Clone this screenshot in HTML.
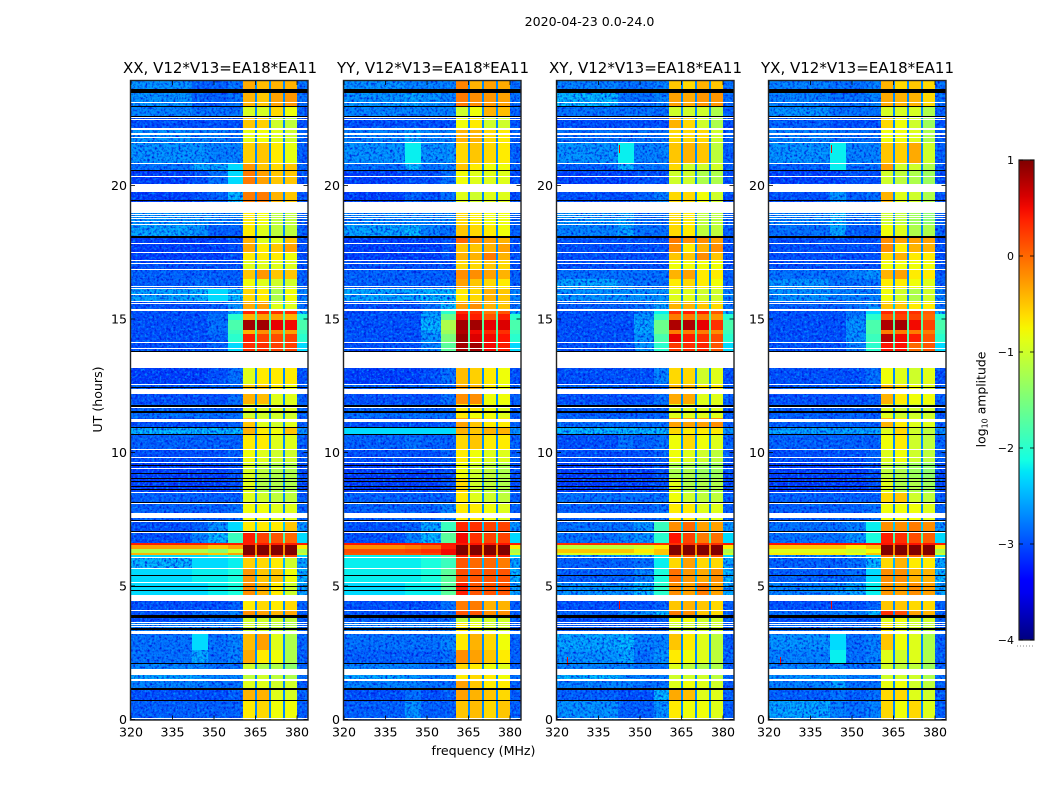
<!DOCTYPE html>
<html lang="en">
<head>
<meta charset="utf-8">
<title>2020-04-23 amplitude waterfall</title>
<style>
html,body{margin:0;padding:0;background:#fff;}
svg{display:block;}
text{font-family:"DejaVu Sans","Liberation Sans",sans-serif;fill:#000;}
</style>
</head>
<body>
<svg id="figure" xmlns="http://www.w3.org/2000/svg" width="1050" height="800" viewBox="0 0 1050 800">
  <defs>
    <linearGradient id="jet-gradient" x1="0" y1="1" x2="0" y2="0"></linearGradient>
    <filter id="speckle-dark" x="0" y="0" width="100%" height="100%" color-interpolation-filters="sRGB">
      <feTurbulence type="fractalNoise" baseFrequency="0.42" numOctaves="2" seed="3"></feTurbulence>
      <feColorMatrix type="matrix" values="0 0 0 0 0  0 0 0 0 0.08  0 0 0 0 0.85  2.6 0 0 0 -1.1"></feColorMatrix>
    </filter>
    <filter id="speckle-light" x="0" y="0" width="100%" height="100%" color-interpolation-filters="sRGB">
      <feTurbulence type="fractalNoise" baseFrequency="0.42" numOctaves="2" seed="11"></feTurbulence>
      <feColorMatrix type="matrix" values="0 0 0 0 0  0 0 0 0 0.6  0 0 0 0 1  2.4 0 0 0 -1.1"></feColorMatrix>
    </filter>
  </defs>
  <text x="589.5" y="26" font-size="12.6" text-anchor="middle">2020-04-23 0.0-24.0</text>
  <text x="220" y="73" font-size="15" text-anchor="middle" textLength="194" lengthAdjust="spacingAndGlyphs">XX, V12*V13=EA18*EA11</text>
  <text x="433" y="73" font-size="15" text-anchor="middle" textLength="192" lengthAdjust="spacingAndGlyphs">YY, V12*V13=EA18*EA11</text>
  <text x="645.5" y="73" font-size="15" text-anchor="middle" textLength="193" lengthAdjust="spacingAndGlyphs">XY, V12*V13=EA18*EA11</text>
  <text x="857.5" y="73" font-size="15" text-anchor="middle" textLength="193" lengthAdjust="spacingAndGlyphs">YX, V12*V13=EA18*EA11</text>
  <text x="483.5" y="755" font-size="12.6" text-anchor="middle">frequency (MHz)</text>
  <text transform="translate(102,399.5) rotate(-90)" font-size="12.6" text-anchor="middle">UT (hours)</text>
  <text transform="translate(985.5,399.5) rotate(-90)" font-size="12.4" text-anchor="middle">log<tspan font-size="8" dy="2">10</tspan><tspan dy="-2"> amplitude</tspan></text>
  <g id="panels"></g>
  <g id="colorbar"></g>
</svg>
<script>
var xTickLabels = [320, 335, 350, 365, 380];
var yTickLabels = [0, 5, 10, 15, 20];
var colorbarTicks = [1, 0, -1, -2, -3, -4];
var panelNames = ['xx', 'yy', 'xy', 'yx'];

/* time band edges, hours */
var rowEdges = [0,.7,1.15,1.5,1.9,2.1,2.6,3.3,3.65,3.9,4.1,4.65,5.15,5.65,6.05,6.15,6.25,6.4,6.55,6.6,7,7.4,8.1,8.5,9,9.6,10.1,10.7,10.95,11.3,11.55,11.8,12.2,12.57,13.8,14.15,14.45,14.6,14.95,15.2,15.35,15.65,16.15,16.5,16.87,17.2,17.5,17.85,18.07,18.55,19.4,20.05,20.55,20.85,21.6,22.1,22.6,22.97,23.5,23.91];

/* frequency cell edges for the eight per-row values, MHz */
var columnEdges = [[320,342],[342,348],[348,355],[355,360.5],[360.5,364.9],[365.5,369.9],[370.5,374.9],[375.5,380]];
var gapColumns = [[364.9,365.5],[369.9,370.5],[374.9,375.5]];
var edgeColumn = [380,384];

/* log10 amplitude per time band: 320-342, 342-348, 348-355, 355-360, sub-bands 1-4 */
var xxRows = [
[-2.9,-2.9,-2.9,-2.9,-.7,-.6,-.8,-.8],[-3,-3,-3,-2.9,-.4,-.4,-.9,-.95],[-2.7,-2.7,-2.8,-2.8,-.9,-.9,-1,-1],[-2.5,-2.6,-2.7,-2.7,-1.1,-1,-1.1,-1.2],
[-2.7,-2.7,-2.8,-2.8,-1,-1.2,-1.2,-1.4],[-2.8,-2.5,-2.8,-2.7,-.35,-.7,-.8,-1.2],[-2.8,-2.3,-2.8,-2.7,-.45,-.3,-.9,-1.2],[-2.7,-2.7,-2.7,-2.7,-1,-1,-1.1,-1.2],
[-3,-2.9,-2.8,-2.8,-1,-1,-1,-1.1],[-3,-2.8,-2.8,-2.7,-.2,-.3,-.4,-.35],[-3,-3,-3,-2.9,-.7,-.6,-.7,-.6],[-2.3,-2.3,-2.2,-2.1,-.2,-.4,-.7,-1],
[-2.3,-2.2,-2.2,-2.1,-.25,-.5,-.5,-.8],[-2.4,-2.3,-2.3,-2.2,-.55,-.6,-.7,-1],[-2.3,-2.3,-2.2,-2,.3,.3,.2,.2],[-.4,-.4,-.5,-.3,1,1,1,1],
[-1.2,-1.2,-1.4,-1,1,1,1,1],[-.3,-.3,-.5,-.3,1,1,1,1],[.4,.4,.4,.4,.4,.4,.4,.4],[-3,-2.7,-2.4,-1.9,.4,.2,.1,0],
[-3,-2.9,-2.6,-2.3,-.7,-.7,-.7,-.5],[-2.9,-2.9,-2.9,-2.8,-.8,-.8,-.9,-.9],[-2.9,-2.9,-2.9,-2.9,-.9,-1,-1.1,-1.1],[-3.1,-3.1,-3.1,-3,-.9,-1.2,-1.2,-1.2],
[-3.1,-3.1,-3.1,-3,-.95,-1.1,-1.2,-1.2],[-3,-3,-3,-2.9,-.8,-.9,-1,-1],[-2.9,-2.9,-2.9,-2.9,-.7,-.7,-.9,-.9],[-2.4,-2.4,-2.4,-2.4,-.4,-.7,-.8,-.5],
[-3,-3,-3,-2.9,-.5,-.9,-1,-.9],[-2.8,-2.8,-2.8,-2.8,-1,-1,-1,-1],[-2.9,-2.9,-2.9,-2.9,-.9,-.9,-.9,-.9],[-3,-3,-3,-2.8,-.4,-.45,-.9,-.9],
[-2.9,-2.9,-2.9,-2.9,-.5,-.5,-.7,-.8],[-3.1,-3.1,-3,-2.8,-.9,-.7,-.7,-.7],[-3,-3,-2.9,-2.3,.3,.3,.2,.2],[-3,-3,-2.9,-2,.4,.2,.15,.2],
[-3,-3,-2.8,-1.9,-.4,-.2,-.2,-.3],[-3,-3,-2.8,-1.8,.85,.85,.55,.5],[-3,-3,-2.8,-2,-.4,-.3,-.3,-.4],[-3,-3,-2.9,-2.5,.35,.35,.3,.3],
[-3,-3,-2.9,-2.6,-.35,-.3,-.9,-.9],[-2.5,-2.4,-2.3,-2.4,-.6,-.7,-1.2,-.8],[-2.9,-2.8,-2.9,-2.9,-.8,-.9,-1,-1],[-2.9,-2.9,-2.9,-2.9,-.5,-.25,-.5,-.5],
[-3,-3,-3,-3,-.9,-.9,-.9,-.9],[-3.1,-3.1,-3.1,-3,-.7,-.7,-.7,-.8],[-3.1,-3.1,-3.1,-3,-.35,-.7,-.5,-.3],[-3.1,-3.1,-3.1,-3,-.4,-.9,-.9,-.5],
[-2.5,-2.6,-2.9,-2.9,-.7,-.9,-1.1,-1.1],[-2.6,-2.6,-2.7,-2.7,-.7,-.8,-1.1,-1.1],[-3.1,-3,-2.9,-2.4,-.1,-.1,-.4,-.5],[-3.1,-3,-2.8,-2.3,-.1,-.3,-.5,-.5],
[-2.8,-2.5,-2.5,-2.3,-.25,-.5,-.6,-.5],[-2.6,-2.6,-2.7,-2.7,-.55,-.5,-.7,-.85],[-2.6,-2.7,-2.7,-2.8,-.85,-.8,-.9,-1],[-3,-3,-3,-3,-.5,-.55,-1,-1.1],
[-2.7,-2.8,-2.8,-2.8,-.95,-.95,-.6,-.8],[-2.6,-2.9,-2.9,-2.8,-.4,-.5,-.3,-.25],[-2.6,-2.9,-2.9,-2.8,-.35,-.45,-.4,-.4]
];
var yyRows = [
[-2.9,-2.6,-2.9,-2.9,-.5,-.45,-.6,-.5],[-3,-2.8,-3,-2.9,-.3,-.4,-.5,-.6],[-2.7,-2.7,-2.8,-2.8,-.3,-.5,-.7,-.7],[-2.5,-2.6,-2.7,-2.7,-.7,-.6,-.7,-.8],
[-2.7,-2.7,-2.8,-2.8,-.6,-.7,-.8,-.9],[-2.9,-2.9,-2.9,-2.8,-.2,-.3,-.5,-.7],[-2.8,-2.8,-2.8,-2.7,-.7,-.4,-.6,-.8],[-2.7,-2.7,-2.7,-2.7,-.7,-.8,-1,-1],
[-2.9,-2.9,-2.9,-2.8,-1.1,-1,-1,-1],[-3,-3,-3,-2.8,.1,.1,-.2,-.2],[-3,-3,-3,-2.8,-.1,-.1,-.4,-.4],[-2.3,-2.2,-2.2,-1.7,.4,.1,.1,.1],
[-2.2,-2.2,-2.1,-1.7,.15,.1,.1,.1],[-2.2,-2.2,-2.1,-1.9,.1,0,0,-.1],[-2.2,-2.2,-2.1,-1.7,.4,.4,.4,.4],[.1,.1,.2,.5,1,1,1,1],
[.15,.2,.3,.5,1,1,1,1],[-.2,-.1,0,.4,1,1,1,1],[.45,.45,.45,.45,.45,.45,.45,.45],[-3,-2.7,-2.4,-1.7,.5,.3,.2,.2],
[-3,-2.9,-2.5,-1.9,.35,.3,.2,.2],[-2.9,-2.9,-2.9,-2.7,-.7,-.7,-.8,-.9],[-2.9,-2.9,-2.9,-2.9,-.7,-.9,-1,-1.1],[-3.1,-3.1,-3.1,-3,-.6,-1,-1.1,-1.2],
[-3.1,-3.1,-3.1,-3,-.8,-1,-1.1,-1.2],[-3,-3,-3,-2.9,-.7,-.8,-.9,-.9],[-2.9,-2.8,-2.9,-2.9,-.6,-.5,-.7,-.7],[-2.3,-2.3,-2.3,-2.3,-.4,-.5,-.4,-.4],
[-3,-3,-3,-2.9,-.3,-.5,-.7,-.7],[-2.8,-2.8,-2.8,-2.8,-.7,-.8,-.8,-.9],[-2.9,-2.9,-2.9,-2.9,-.7,-.7,-.8,-.9],[-3,-3,-3,-2.8,-.2,-.2,-.8,-.8],
[-2.9,-2.9,-2.9,-2.9,-.3,-.4,-.7,-.8],[-3.1,-3.1,-3,-2.8,-.45,-.55,-.7,-.8],[-3,-3,-2.7,-1.7,.85,.85,.5,.4],[-3,-3,-2.6,-1.5,.9,.6,.5,.45],
[-3,-3,-2.5,-1.3,.8,.5,.35,.3],[-3,-3,-2.4,-1.2,.85,.85,.55,.6],[-3,-3,-2.5,-1.6,.5,.4,.1,.4],[-3,-3,-2.6,-2,.35,.3,-.1,.1],
[-3,-3,-2.8,-2.4,-.3,-.2,-.4,-.5],[-2.5,-2.5,-2.4,-2.4,-.7,-.6,-.4,-.5],[-2.9,-2.9,-2.9,-2.9,-.3,-.5,-.6,-.7],[-2.9,-2.9,-2.9,-2.9,-.2,-.2,-.3,-.4],
[-3,-3,-3,-3,-.6,-.6,-.5,-.6],[-3.1,-3.1,-3.1,-3,-.4,-.4,-.1,-.4],[-3.1,-3.1,-3.1,-3,-.5,-.5,-.4,-.3],[-3.1,-3.1,-3.1,-3,0,-.2,-.3,-.4],
[-2.5,-2.4,-2.7,-2.8,-.5,-.6,-.7,-.8],[-2.7,-2.7,-2.7,-2.7,-.6,-.7,-.8,-.8],[-3.1,-2.9,-3,-2.8,-.9,-1,-.9,-.9],[-3.1,-3,-3,-2.8,-.8,-.9,-.9,-.9],
[-2.8,-2.4,-2.8,-2.7,-.5,-.7,-.8,-.8],[-2.6,-2.2,-2.6,-2.6,-.6,-.5,-.6,-.7],[-2.7,-2.5,-2.7,-2.7,-.4,-.4,-.6,-.7],[-3,-3,-3,-3,-.8,-.7,-1,-1],
[-2.7,-2.7,-2.7,-2.7,-1,-.8,-.4,-.45],[-2.6,-2.5,-2.6,-2.7,-.1,-.2,-.25,-.3],[-2.6,-2.7,-2.7,-2.7,-.15,-.4,-.3,-.35]
];
var xyRows = [
[-2.6,-2.9,-2.9,-2.6,-.7,-.8,-.8,-.9],[-2.9,-3,-3,-2.4,-.35,-.45,-.9,-.9],[-2.7,-2.7,-2.8,-2.8,-.9,-.8,-.9,-1],[-2.4,-2.6,-2.7,-2.7,-1,-1,-1,-1.1],
[-2.7,-2.7,-2.8,-2.8,-.9,-1.1,-1.2,-1.2],[-2.6,-2.5,-2.8,-2.6,-.7,-.8,-.9,-1.1],[-2.5,-2.4,-2.7,-2.7,-.5,-.7,-.9,-1.1],[-2.9,-2.9,-2.9,-2.9,-1,-1,-1,-1],
[-3,-3,-3,-2.9,-.8,-.8,-1,-1],[-2.9,-2.7,-2.6,-2.4,-.1,-.2,-.5,-.6],[-3,-3,-3,-2.9,-.5,-.4,-.5,-.6],[-2.6,-2.6,-2.4,-2,-.2,-.3,-.1,-.3],
[-2.9,-2.9,-2.7,-2.1,-.05,-.25,-.35,-.2],[-2.9,-2.9,-2.8,-2.2,-.6,-.3,-.6,-.6],[-2.6,-2.6,-2.5,-2.2,.1,.1,.1,.1],[-.9,-.9,-.9,-.5,1,1,1,1],
[-.5,-.5,-.7,-.5,1,1,1,1],[-1.1,-1.1,-1,-.7,1,1,1,1],[.3,.3,.3,.3,.3,.3,.3,.3],[-2.8,-2.7,-2.6,-2,.45,.2,-.1,-.05],
[-2.8,-2.8,-2.6,-1.9,-.2,0,-.3,-.3],[-2.9,-2.9,-2.9,-2.8,-.7,-.7,-.9,-.9],[-2.8,-2.8,-2.8,-2.8,-.8,-1,-1.1,-1.1],[-3.1,-3.1,-3.1,-3,-.9,-1.2,-1.2,-1.2],
[-3.1,-3.1,-3.1,-3,-1.2,-1.2,-1.3,-1.3],[-3,-3,-3,-2.9,-.8,-.9,-1,-1.1],[-3,-2.8,-2.9,-2.8,-.8,-.6,-.8,-.9],[-2.4,-2.4,-2.4,-2.4,-.6,-.7,-.7,-.7],
[-2.8,-2.8,-2.8,-2.8,-.3,-.3,-.3,-.2],[-2.9,-2.9,-2.9,-2.9,-.9,-.9,-.9,-.9],[-2.9,-2.9,-2.9,-2.9,-.9,-.9,-.9,-.9],[-3,-3,-3,-2.8,-.35,-.35,-.9,-.9],
[-2.9,-2.9,-2.9,-2.9,-.4,-.4,-.7,-.7],[-3,-3,-3,-2.7,-.6,-.6,-1,-.9],[-3,-3,-2.6,-2,.25,.3,.35,.1],[-3,-3,-2.6,-1.8,.55,.4,.3,.15],
[-3,-3,-2.5,-1.6,-.1,-.1,-.1,-.2],[-3,-3,-2.5,-1.6,.8,.8,.55,.3],[-3,-3,-2.6,-1.9,-.1,-.1,-.1,-.25],[-3,-3,-2.7,-2.2,.3,.4,.4,.1],
[-2.9,-2.9,-2.8,-2.5,-.4,-.4,-.5,-.6],[-2.6,-2.6,-2.6,-2.6,-.9,-.9,-1,-1],[-2.5,-2.7,-2.8,-2.8,-.7,-.6,-.7,-.8],[-2.8,-2.8,-2.8,-2.8,-.4,-.3,-.7,-.7],
[-3,-3,-3,-3,-.8,-.8,-.8,-.8],[-3,-3,-3,-3,-.5,-.5,-.2,-.5],[-3,-3,-3,-3,-.2,-.7,-.4,-.2],[-3,-3,-3,-3,-.1,-.2,-.2,-.3],
[-2.7,-2.5,-2.8,-2.8,-.6,-.7,-1.1,-1.1],[-2.6,-2.5,-2.8,-2.8,-.6,-.7,-1.1,-1.1],[-3,-3,-2.9,-2.7,-.6,-.6,-.8,-1],[-3.1,-3.1,-3,-3,-1,-1,-1.2,-1.2],
[-2.9,-2.4,-2.8,-2.8,-.6,-1,-1,-1],[-2.6,-2.2,-2.7,-2.7,-.5,-.4,-.5,-1.1],[-2.8,-2.8,-2.8,-2.8,-.6,-.6,-.6,-1],[-3,-3,-3,-3,-.4,-.6,-1,-1.2],
[-2.8,-2.8,-2.8,-2.8,-1,-1,-1,-1.2],[-2.4,-2.8,-2.8,-2.7,-.3,-.35,-.25,-.25],[-2.7,-2.8,-2.8,-2.7,-.5,-.6,-.4,-.5]
];
var yxRows = [
[-2.5,-2.7,-2.8,-2.7,-.6,-.8,-.6,-.9],[-2.9,-2.8,-2.9,-2.8,-.6,-.6,-.9,-1],[-2.7,-2.5,-2.8,-2.8,-.85,-.8,-1,-1.1],[-2.6,-2.6,-2.7,-2.7,-1,-1,-1,-1.2],
[-2.7,-2.7,-2.8,-2.8,-1,-1.1,-1.1,-1.3],[-2.7,-2.2,-2.8,-2.7,-.9,-1,-.9,-1.2],[-2.6,-2.3,-2.8,-2.7,-.5,-.8,-.9,-1.2],[-2.8,-2.8,-2.8,-2.8,-.7,-.9,-1,-1.1],
[-3,-2.9,-2.9,-2.9,-.9,-.8,-1,-1],[-2.8,-2.7,-2.7,-2.4,.3,.15,-.3,-.4],[-3,-3,-3,-2.9,-.5,-.5,-.6,-.6],[-2.7,-2.6,-2.5,-2.2,-.25,-.3,-.2,-.3],
[-2.9,-2.9,-2.8,-2.3,-.2,-.2,-.4,-.4],[-2.9,-2.9,-2.8,-2.4,-.6,-.4,-.7,-.7],[-2.7,-2.7,-2.6,-2.3,0,0,0,0],[-.7,-.7,-.8,-.5,1,1,1,1],
[-.9,-.9,-1,-.8,1,1,1,1],[-.5,-.5,-.7,-.5,1,1,1,1],[.45,.45,.45,.45,.45,.45,.45,.45],[-2.8,-2.8,-2.6,-2.1,.4,.3,.15,.05],
[-2.8,-2.8,-2.7,-2.2,-.2,-.2,-.1,-.2],[-2.9,-2.9,-2.9,-2.8,-.8,-.8,-.8,-.9],[-2.9,-2.9,-2.9,-2.9,-.6,-.5,-1,-1.1],[-3.1,-3.1,-3.1,-3,-.9,-1.2,-1.2,-1.3],
[-3.1,-3.1,-3.1,-3,-1.1,-1.2,-1.3,-1.4],[-3,-3,-3,-2.9,-.9,-.8,-1,-1.1],[-2.9,-2.9,-2.9,-2.9,-.8,-.7,-1,-1.1],[-2.5,-2.5,-2.5,-2.5,-.9,-.6,-1,-1.1],
[-2.9,-2.9,-2.9,-2.9,-.4,-.7,-.9,-.9],[-2.9,-2.9,-2.9,-2.9,-.9,-1,-1,-1],[-2.9,-2.9,-2.9,-2.9,-.9,-1,-1,-1],[-3,-3,-3,-2.9,-.4,-.7,-.8,-.8],
[-2.9,-2.9,-2.9,-2.9,-.4,-.6,-.8,-.9],[-3,-3,-3,-2.8,-.8,-.9,-1,-.9],[-3,-3,-2.7,-2,.45,.45,0,.1],[-3,-3,-2.6,-1.9,.75,.5,.4,.1],
[-3,-3,-2.6,-1.8,-.1,-.1,-.1,-.1],[-3,-3,-2.6,-1.8,.8,.85,.5,.2],[-3,-3,-2.7,-2,.1,.2,.2,0],[-3,-3,-2.8,-2.3,.35,.3,.3,.05],
[-2.9,-2.9,-2.8,-2.6,-.5,-.5,-.7,-.7],[-2.6,-2.7,-2.7,-2.7,-.8,-1,-1.2,-1],[-2.6,-2.8,-2.8,-2.8,-.7,-.7,-.8,-.9],[-2.8,-2.8,-2.7,-2.6,-.4,-.3,-.7,-.7],
[-3,-3,-3,-3,-.8,-.8,-.8,-.8],[-3,-3,-3,-3,-.6,-.4,-.7,-.7],[-3,-3,-3,-3,-.2,-.7,-.4,-.4],[-3,-3,-3,-3,-.2,-.3,-.3,-.3],
[-2.8,-2.5,-2.9,-2.9,-.8,-.9,-1.2,-1.2],[-2.7,-2.4,-2.8,-2.8,-1,-1.1,-1.3,-1.4],[-3,-2.6,-2.9,-2.8,-.4,-.9,-1,-1.2],[-3.1,-3.1,-3,-3,-1,-1.1,-1.2,-1.3],
[-2.9,-2.2,-2.8,-2.8,-.3,-1,-1,-1.2],[-2.6,-2.2,-2.7,-2.7,-.5,-.55,-.35,-1],[-2.7,-2.8,-2.8,-2.8,-.8,-.8,-.9,-1.2],[-2.9,-3,-3,-3,-.6,-.8,-1,-1.3],
[-2.6,-2.8,-2.8,-2.8,-.95,-.95,-.95,-1.2],[-2.7,-2.8,-2.8,-2.7,-.35,-.4,-.4,-.6],[-2.7,-2.8,-2.8,-2.7,-.4,-.6,-.5,-.6]
];

/* narrow channels between sub-bands, and the 380-384 MHz edge, per time band */
var gapLevels = [-2.7,-2.7,-2.7,-2.7,-2.7,-2.7,-2.7,-2.7,-2.7,-2.7,-2.7,-2.5,-2.5,-2.5,-1.6,-.2,-.2,-.2,0,-1.8,-2.4,-2.7,-2.7,-2.7,-2.7,-2.7,-2.7,-2.7,-2.7,-2.7,-2.7,-2.7,-2.7,-2.7,-1.8,-1.8,-1.8,-1.7,-1.8,-1.9,-2.4,-2.7,-2.7,-2.7,-2.7,-2.7,-2.7,-2.7,-2.7,-2.7,-2.7,-2.7,-2.7,-2.7,-2.7,-2.7,-2.7,-2.7,-2.7];
var edgeLevels = [-2.9,-2.9,-2.9,-2.8,-2.9,-2.9,-2.9,-2.9,-2.9,-2.9,-2.9,-2.5,-2.4,-2.5,-2.3,-1,-1.2,-.7,.4,-2.3,-2.6,-2.9,-2.9,-3,-3,-2.9,-2.9,-2.6,-2.9,-2.9,-2.9,-2.9,-2.9,-3,-2.3,-2,-1.9,-1.8,-2,-2.4,-2.8,-2.7,-2.9,-2.9,-3,-3,-3,-3,-2.9,-2.9,-3,-3,-2.9,-2.9,-2.9,-3,-2.9,-2.8,-2.8];

/* flagged intervals as [start hour, duration] */
var whiteGaps = [[23.08,.04],[22.53,.04],[22.45,.04],[22.08,.06],[21.91,.04],[21.78,.04],[21.6,.04],[20.82,.04],[20.33,.04],[19.77,.29],[18.98,.42],[18.9,.04],[18.82,.04],[18.74,.04],[18.63,.04],[18.53,.04],[17.81,.04],[17.47,.04],[17.17,.04],[17.05,.04],[16.84,.04],[16.2,.04],[16.11,.04],[15.9,.04],[15.63,.04],[15.56,.04],[15.3,.06],[14.1,.05],[13.88,.05],[13.17,.63],[12.53,.04],[12.2,.17],[11.65,.04],[11.14,.13],[10.09,.04],[9.79,.04],[9.61,.04],[9.38,.04],[8.48,.04],[8.07,.04],[7.55,.18],[7.38,.04],[6.98,.04],[6.03,.04],[5.64,.04],[5.11,.04],[4.45,.22],[4.06,.04],[3.61,.04],[3.54,.04],[3.46,.04],[3.2,.12],[1.68,.23],[1.46,.06],[.02,.05]];
var blackLines = [[23.48,.14],[22.93,.05],[22.57,.04],[20.53,.04],[19.43,.04],[18.05,.04],[13.79,.03],[12.4,.04],[11.72,.06],[11.48,.08],[10.92,.04],[10.67,.04],[9.49,.04],[9.2,.04],[9,.04],[8.9,.04],[8.7,.04],[8.6,.04],[8.09,.04],[7.42,.04],[7.02,.04],[5.37,.04],[4.95,.04],[4.8,.04],[3.79,.12],[3.37,.04],[2.08,.04],[1.09,.09],[.69,.04]];

/* isolated interference points */
var rfiPanels = [2, 2, 2, 3, 3, 3];
var rfiFreqs = [342.3, 342.3, 323.6, 342.3, 342.3, 324];
var rfiHours = [21.35, 4.3, 2.2, 21.35, 4.3, 2.2];
var rfiLevels = [.5, .5, .5, .5, .5, .5];

var SVG_NS = 'http://www.w3.org/2000/svg';
var panelLefts = [131, 344, 557, 769];
var panelWidth = 176.5;
var panelTop = 81;
var panelBottom = 719.5;
var PX_PER_HOUR = 26.7;
var PX_PER_MHZ = 2.767;
var SPECKLE_BELOW = -2.35;
var panelData = [xxRows, yyRows, xyRows, yxRows];

function yScale(hour) {
  return panelBottom - hour * PX_PER_HOUR;
}
function xScale(left, freq) {
  return left + (freq - 320) * PX_PER_MHZ;
}
function jetChannel(t, pts) {
  for (var i = 1; i < pts.length; i++) {
    if (t <= pts[i][0]) {
      var a = pts[i - 1], b = pts[i];
      return a[1] + (b[1] - a[1]) * (t - a[0]) / (b[0] - a[0]);
    }
  }
  return pts[pts.length - 1][1];
}
function jetColor(t) {
  t = Math.max(0, Math.min(1, t));
  var r = jetChannel(t, [[0,0],[.35,0],[.66,1],[.89,1],[1,.5]]);
  var g = jetChannel(t, [[0,0],[.125,0],[.375,1],[.64,1],[.91,0],[1,0]]);
  var b = jetChannel(t, [[0,.5],[.11,1],[.34,1],[.65,0],[1,0]]);
  return 'rgb(' + Math.round(r * 255) + ',' + Math.round(g * 255) + ',' + Math.round(b * 255) + ')';
}
function levelColor(level) {
  return jetColor((level + 4) / 5);
}
function addRect(parent, x, y, w, h, fill) {
  var el = document.createElementNS(SVG_NS, 'rect');
  el.setAttribute('x', x);
  el.setAttribute('y', y);
  el.setAttribute('width', w);
  el.setAttribute('height', h);
  el.setAttribute('fill', fill);
  el.setAttribute('shape-rendering', 'crispEdges');
  parent.appendChild(el);
  return el;
}
function addLine(parent, x1, y1, x2, y2, stroke, width) {
  var el = document.createElementNS(SVG_NS, 'line');
  el.setAttribute('x1', x1);
  el.setAttribute('y1', y1);
  el.setAttribute('x2', x2);
  el.setAttribute('y2', y2);
  el.setAttribute('stroke', stroke);
  el.setAttribute('stroke-width', width);
  parent.appendChild(el);
  return el;
}
function addText(parent, x, y, anchor, content) {
  var el = document.createElementNS(SVG_NS, 'text');
  el.setAttribute('x', x);
  el.setAttribute('y', y);
  el.setAttribute('font-size', '12.6');
  el.setAttribute('text-anchor', anchor);
  el.textContent = content;
  parent.appendChild(el);
  return el;
}
function cellBox(left, f0, f1, h0, h1) {
  var x0 = Math.round(xScale(left, f0));
  var x1 = Math.round(xScale(left, f1));
  var y1 = Math.round(yScale(h0));
  var y0 = Math.round(yScale(h1));
  return { x: x0, y: y0, w: Math.max(1, x1 - x0), h: Math.max(1, y1 - y0) };
}
function drawCell(group, left, f0, f1, h0, h1, level) {
  var box = cellBox(left, f0, f1, h0, h1);
  var cell = addRect(group, box.x, box.y, box.w, box.h, levelColor(level));
  
  
}
function drawFlag(group, left, item, color, name) {
  var y0 = Math.round(yScale(item[0] + item[1]));
  var y1 = Math.round(yScale(item[0]));
  var band = addRect(group, left, y0, panelWidth, Math.max(1, y1 - y0), color);
  
  
}
function drawSpeckle(group, left, index, rows) {
  var clipId = 'speckle-clip-' + panelNames[index];
  var clip = document.createElementNS(SVG_NS, 'clipPath');
  clip.setAttribute('id', clipId);
  rows.forEach(function (row, r) {
    var h0 = rowEdges[r], h1 = rowEdges[r + 1];
    for (var c = 0; c < 4; c++) {
      if (row[c] < SPECKLE_BELOW) {
        var box = cellBox(left, columnEdges[c][0], columnEdges[c][1], h0, h1);
        addRect(clip, box.x, box.y, box.w, box.h, '#000');
      }
    }
    if (edgeLevels[r] < SPECKLE_BELOW) {
      var edge = cellBox(left, edgeColumn[0], edgeColumn[1], h0, h1);
      addRect(clip, edge.x, edge.y, edge.w, edge.h, '#000');
    }
  });
  group.appendChild(clip);
  var wrap = document.createElementNS(SVG_NS, 'g');
  wrap.setAttribute('clip-path', 'url(#' + clipId + ')');
  
  
  group.appendChild(wrap);
  var dark = addRect(wrap, left, panelTop, panelWidth, panelBottom - panelTop, '#000');
  dark.setAttribute('filter', 'url(#speckle-dark)');
  var light = addRect(wrap, left, panelTop, panelWidth, panelBottom - panelTop, '#000');
  light.setAttribute('filter', 'url(#speckle-light)');
}
function drawPanel(index) {
  var left = panelLefts[index];
  var rows = panelData[index];
  var root = document.getElementById('panels');
  var group = document.createElementNS(SVG_NS, 'g');
  
  
  root.appendChild(group);
  rows.forEach(function (row, r) {
    var h0 = rowEdges[r], h1 = rowEdges[r + 1];
    row.forEach(function (level, c) {
      drawCell(group, left, columnEdges[c][0], columnEdges[c][1], h0, h1, level);
    });
    gapColumns.forEach(function (gap) {
      drawCell(group, left, gap[0], gap[1], h0, h1, gapLevels[r]);
    });
    drawCell(group, left, edgeColumn[0], edgeColumn[1], h0, h1, edgeLevels[r]);
  });
  drawSpeckle(group, left, index, rows);
  rfiPanels.forEach(function (panel, i) {
    if (panel !== index) {
      return;
    }
    var x = xScale(left, rfiFreqs[i]);
    var y = yScale(rfiHours[i]);
    var point = addRect(group, Math.round(x), Math.round(y) - 4, 1, 8, levelColor(rfiLevels[i]));
    
    
  });
  whiteGaps.forEach(function (item) {
    drawFlag(group, left, item, '#fff', 'flagged-gap');
  });
  blackLines.forEach(function (item) {
    drawFlag(group, left, item, '#000', 'flagged-line');
  });
  var frame = addRect(group, left - 0.5, panelTop - 0.5, panelWidth + 1, panelBottom - panelTop + 1, 'none');
  frame.setAttribute('stroke', '#222');
  frame.setAttribute('stroke-width', '1.4');
  frame.setAttribute('shape-rendering', 'auto');
  
  
  xTickLabels.forEach(function (tick) {
    var x = xScale(left, tick);
    var t1 = addLine(group, x, panelBottom, x, panelBottom - 4, '#000', 0.8);
    
    
    var t2 = addLine(group, x, panelTop, x, panelTop + 4, '#000', 0.8);
    
    
    var label = addText(group, x, panelBottom + 17, 'middle', String(tick));
    
    
  });
  yTickLabels.forEach(function (tick) {
    var y = yScale(tick);
    var t1 = addLine(group, left, y, left + 4, y, '#000', 0.8);
    
    
    var t2 = addLine(group, left + panelWidth, y, left + panelWidth - 4, y, '#000', 0.8);
    
    
    var label = addText(group, left - 4, y + 4.5, 'end', String(tick));
    
    
  });
}
function drawColorbar() {
  var group = document.getElementById('colorbar');
  var gradient = document.getElementById('jet-gradient');
  var barX = 1019, barY = 160, barW = 15, barH = 480;
  for (var i = 0; i <= 40; i++) {
    var stop = document.createElementNS(SVG_NS, 'stop');
    stop.setAttribute('offset', (i / 40 * 100) + '%');
    stop.setAttribute('stop-color', jetColor(i / 40));
    gradient.appendChild(stop);
  }
  var bar = addRect(group, barX, barY, barW, barH, 'url(#jet-gradient)');
  bar.setAttribute('stroke', '#222');
  bar.setAttribute('stroke-width', '1.2');
  bar.setAttribute('shape-rendering', 'auto');
  
  
  colorbarTicks.forEach(function (tick) {
    var y = barY + (1 - tick) / 5 * barH;
    var t1 = addLine(group, barX, y, barX + 4, y, '#000', 0.8);
    
    
    var t2 = addLine(group, barX + barW, y, barX + barW - 4, y, '#000', 0.8);
    
    
    var text = tick < 0 ? '\u2212' + Math.abs(tick) : String(tick);
    var label = addText(group, barX - 5, y + 4, 'end', text);
    label.setAttribute('font-size', '11');
    
    
  });
  var dots = addLine(group, 1017, 646, 1035, 646, '#888', 1);
  dots.setAttribute('stroke-dasharray', '1 2');
  
  
}
panelNames.forEach(function (name, i) {
  drawPanel(i);
});
drawColorbar();
</script>
</body>
</html>
